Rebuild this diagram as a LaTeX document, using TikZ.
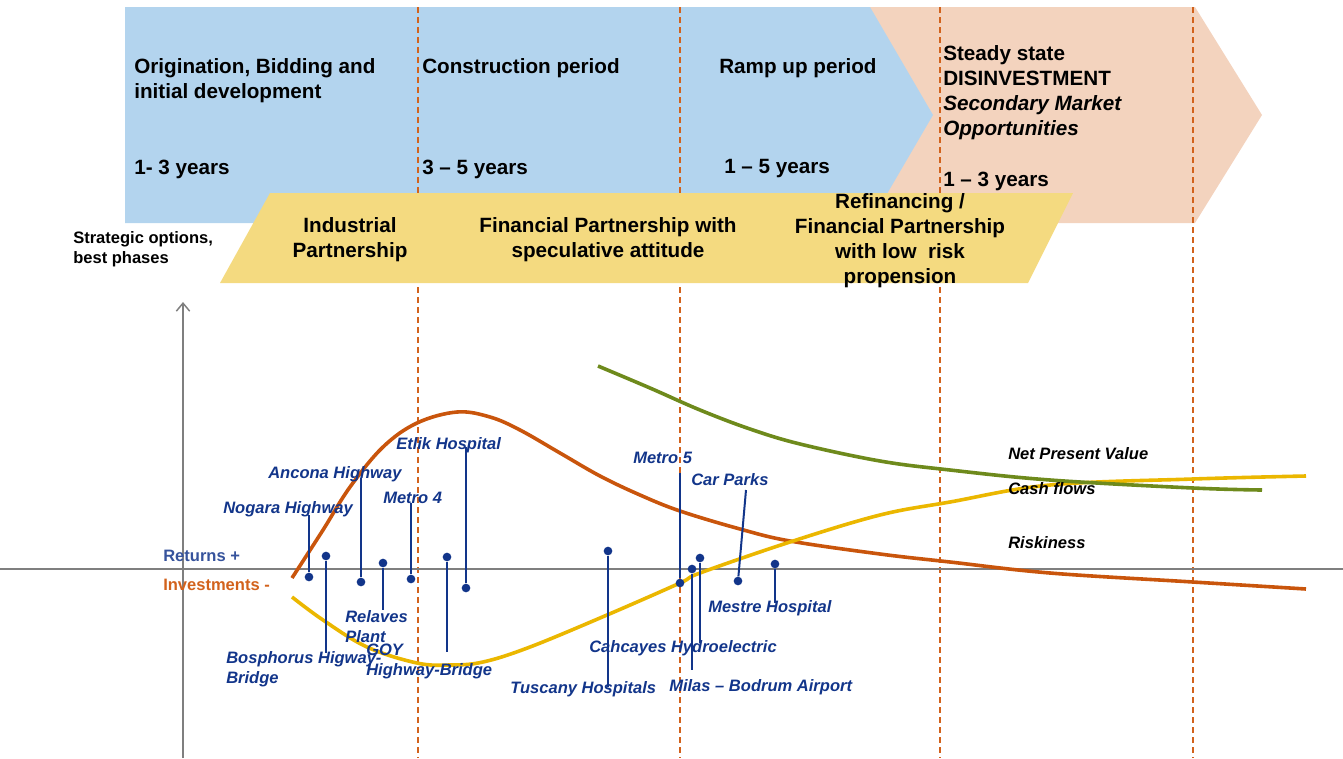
\documentclass[tikz,border=0pt]{standalone}
\usepackage{fontspec}
\setmainfont{Liberation Sans}
\usetikzlibrary{arrows.meta,positioning}

\definecolor{phaseblue}{HTML}{B3D4EE}
\definecolor{phasepeach}{HTML}{F3D3BE}
\definecolor{optionyellow}{HTML}{F4DA80}
\definecolor{cutorange}{HTML}{D2621C}
\definecolor{riskorange}{HTML}{C9550C}
\definecolor{cashyellow}{HTML}{EBB700}
\definecolor{npvgreen}{HTML}{6E8A1C}
\definecolor{projblue}{HTML}{12358A}
\definecolor{axisgray}{HTML}{7F7F7F}

\tikzstyle{phase}=[anchor=west,inner sep=0pt,yshift=-1.5pt,align=left,font=\fontsize{15.5}{18.75}\selectfont\bfseries]
\tikzstyle{option}=[inner sep=0pt,yshift=-1.5pt,align=center,font=\fontsize{15.5}{18.75}\selectfont\bfseries]
\tikzstyle{small}=[anchor=west,inner sep=0pt,yshift=-1pt,align=left,font=\fontsize{12.4}{15}\selectfont\bfseries]
\tikzstyle{project}=[anchor=west,inner sep=0pt,yshift=-1pt,align=left,text=projblue,font=\fontsize{12.4}{15}\selectfont\bfseries\itshape]
\tikzstyle{curvename}=[anchor=west,inner sep=0pt,yshift=-1pt,font=\fontsize{12.4}{15}\selectfont\bfseries\itshape]
\tikzstyle{stem}=[projblue,line width=1.5pt]
\tikzstyle{dot}=[circle,fill=projblue,inner sep=0pt,minimum size=6.5pt]
\tikzstyle{cut}=[cutorange,line width=1.1pt,dash pattern=on 4.5pt off 3pt]
\tikzstyle{trend}=[line width=2.7pt]

\begin{document}
\begin{tikzpicture}[x=0.75pt,y=-0.75pt]
\useasboundingbox (0,0) rectangle (1343,758);
% phases
\fill[phasepeach] (870,7)--(1195,7)--(1262,115)--(1195,223)--(870,223)--cycle;
\fill[phaseblue] (125,7)--(870,7)--(933,115)--(870,223)--(125,223)--cycle;
\foreach \x in {418,680,940,1193}
  \draw[cut] (\x,7)--(\x,758);
\fill[optionyellow] (270,193)--(1073,193)--(1028,283)--(220,283)--cycle;

\node(origination)[phase] at (134,78.5) {Origination, Bidding and\\initial development};
\node(originationyears)[phase] at (134,167) {1- 3 years};
\node(construction)[phase] at (422,66) {Construction period};
\node(constructionyears)[phase] at (422,167) {3 -- 5 years};
\node(rampup)[phase] at (719,66) {Ramp up period};
\node(rampupyears)[phase] at (724,167) {1 -- 5 years};
\node(steady)[phase] at (943,90.5) {Steady state\\DISINVESTMENT\\\itshape Secondary Market\\\itshape Opportunities};
\node(steadyyears)[phase] at (943,179) {1 -- 3 years};

% strategic options
\node(industrial)[option] at (350,238) {Industrial\\Partnership};
\node(speculative)[option] at (608,238) {Financial Partnership with\\speculative attitude};
\node(lowrisk)[option] at (900,238.5) {Refinancing /\\Financial Partnership\\with low\ \ risk\\propension};
\node(strategic)[small] at (73,248) {Strategic options,\\best phases};

% axes
\draw[axisgray,line width=1.5pt] (0,569)--(1343,569);
\draw[axisgray,line width=1.1pt,-{Straight Barb[length=6pt,width=10pt]}] (183,758)--(183,302);
\node(returns)[small,text=projblue!85!white] at (163,555) {Returns +};
\node(investments)[small,text=cutorange] at (163,584) {Investments -};

% curves
\draw[trend,riskorange] plot[smooth,tension=0.6] coordinates {(292,578) (323,530) (350,487) (383,447) (417,423) (457,412) (490,417) (520,430) (560,453) (600,476) (640,495) (680,511) (740,529) (790,541) (880,554) (950,562) (1050,573) (1193,582) (1306,589)};
\draw[trend,cashyellow] plot[smooth,tension=0.6] coordinates {(292,597) (323,620) (367,647) (417,663) (450,665) (483,662) (530,647) (607,615) (680,583) (700,573) (790,542) (880,515) (950,502) (1050,485) (1193,479) (1306,476)};
\draw[trend,npvgreen] plot[smooth,tension=0.6] coordinates {(598,366) (650,388) (700,410) (750,429) (800,444) (880,461) (950,470) (1050,480) (1193,488) (1262,490)};
\node(npv)[curvename] at (1008,452) {Net Present Value};
\node(cashflows)[curvename] at (1008,487) {Cash flows};
\node(riskiness)[curvename] at (1008,541) {Riskiness};

% projects
\node(nogara)[project] at (223,508) {Nogara Highway};
\node(ancona)[project] at (268,473) {Ancona Highway};
\node(metrofour)[project] at (383,497) {Metro 4};
\node(etlik)[project] at (396,444) {Etlik Hospital};
\node(relaves)[project] at (345,625) {Relaves\\Plant};
\node(bosphorus)[project] at (226,668) {Bosphorus Higway-\\Bridge};
\node(goy)[project] at (366,660.5) {GOY\\Highway-Bridge};
\node(tuscany)[project] at (510,688) {Tuscany Hospitals};
\node(metrofive)[project] at (633,457) {Metro 5};
\node(milas)[project] at (669,686) {Milas -- Bodrum Airport};
\node(cahcayes)[project] at (589,647) {Cahcayes Hydroelectric};
\node(carparks)[project] at (691,478) {Car Parks};
\node(mestre)[project] at (708,607) {Mestre Hospital};

\node(nogaradot)[dot] at (309,577) {};
\node(boshorusdot)[dot] at (326,556) {};
\node(anconadot)[dot] at (361,582) {};
\node(relavesdot)[dot] at (383,563) {};
\node(metrofourdot)[dot] at (411,579) {};
\node(goydot)[dot] at (447,557) {};
\node(etlikdot)[dot] at (466,588) {};
\node(tuscanydot)[dot] at (608,551) {};
\node(metrofivedot)[dot] at (680,583) {};
\node(milasdot)[dot] at (692,569) {};
\node(cahcayesdot)[dot] at (700,558) {};
\node(carparksdot)[dot] at (738,581) {};
\node(mestredot)[dot] at (775,564) {};

\coordinate(nogaraend) at (309,515);
\coordinate(bosphorusend) at (326,653);
\coordinate(anconaend) at (361,478);
\coordinate(relavesend) at (383,610);
\coordinate(metrofourend) at (411,503);
\coordinate(goyend) at (447,652);
\coordinate(etlikend) at (466,447);
\coordinate(tuscanyend) at (608,687);
\coordinate(metrofiveend) at (680,473);
\coordinate(milasend) at (692,670);
\coordinate(cahcayesend) at (700,643);
\coordinate(carparksend) at (746,490);
\coordinate(mestreend) at (775,603);

\draw[stem](nogaradot)--(nogaraend);
\draw[stem](boshorusdot)--(bosphorusend);
\draw[stem](anconadot)--(anconaend);
\draw[stem](relavesdot)--(relavesend);
\draw[stem](metrofourdot)--(metrofourend);
\draw[stem](goydot)--(goyend);
\draw[stem](etlikdot)--(etlikend);
\draw[stem](tuscanydot)--(tuscanyend);
\draw[stem](metrofivedot)--(metrofiveend);
\draw[stem](milasdot)--(milasend);
\draw[stem](cahcayesdot)--(cahcayesend);
\draw[stem](carparksdot)--(carparksend);
\draw[stem](mestredot)--(mestreend);
\end{tikzpicture}
\end{document}
